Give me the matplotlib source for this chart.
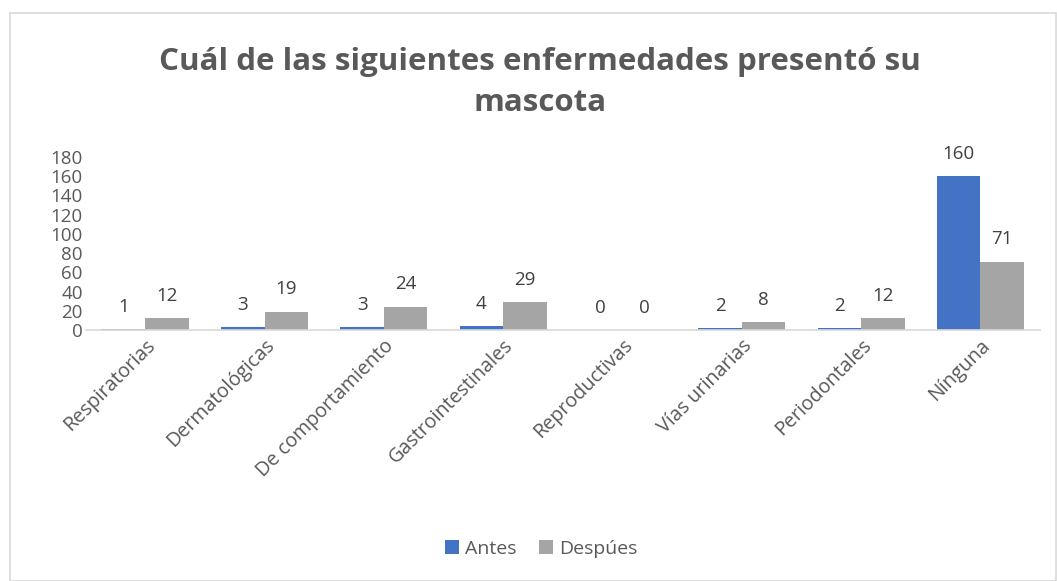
import matplotlib.pyplot as plt
import numpy as np
from matplotlib.patches import Rectangle

plt.rcParams['font.family'] = ['Open Sans', 'DejaVu Sans']

categorias = ['Respiratorias', 'Dermatológicas', 'De comportamiento', 'Gastrointestinales',
              'Reproductivas', 'Vías urinarias', 'Periodontales', 'Nínguna']
antes = [1, 3, 3, 4, 0, 2, 2, 160]
despues = [12, 19, 24, 29, 0, 8, 12, 71]

azul = '#4472C4'
gris = '#A5A5A5'
texto = '#595959'

fig = plt.figure(figsize=(10.57, 5.81), dpi=100)
fig.patches.append(Rectangle((0.009, 0.0), 0.99, 0.978, transform=fig.transFigure,
                             fill=False, edgecolor='#D9D9D9', linewidth=1.2))
ax = fig.add_axes([0.081, 0.432, 0.903, 0.298])

x = np.arange(len(categorias))
w = 0.365
b1 = ax.bar(x - w / 2, antes, w, color=azul, label='Antes')
b2 = ax.bar(x + w / 2, despues, w, color=gris, label='Despúes')

for barras, vals in ((b1, antes), (b2, despues)):
    for r, v in zip(barras, vals):
        ax.text(r.get_x() + r.get_width() / 2, v + 14, str(v), ha='center', va='bottom',
                fontsize=13.5, color='#404040')

ax.set_xlim(-0.5, len(categorias) - 0.5)
ax.set_ylim(0, 180)
ax.set_yticks(np.arange(0, 181, 20))
ax.tick_params(axis='y', length=0, labelsize=13.5, labelcolor=texto, pad=2)
ax.tick_params(axis='x', length=0, labelsize=14.2, labelcolor=texto, pad=4)
ax.set_xticks(x)
ax.set_xticklabels(categorias, rotation=45, ha='right', rotation_mode='anchor')
for s in ['top', 'right', 'left']:
    ax.spines[s].set_visible(False)
ax.spines['bottom'].set_color('#D9D9D9')
ax.spines['bottom'].set_linewidth(1.2)

fig.text(0.511, 0.858, 'Cuál de las siguientes enfermedades presentó su\nmascota',
         ha='center', va='center', fontsize=22.5, fontweight='bold', color=texto,
         linespacing=1.45)

fig.legend(handles=[b1, b2], loc='center', bbox_to_anchor=(0.512, 0.055), ncol=2,
           frameon=False, fontsize=14, labelcolor=texto, handlelength=0.7,
           handleheight=0.7, handletextpad=0.3, columnspacing=1.2)

fig.savefig('out.png', dpi=100)
